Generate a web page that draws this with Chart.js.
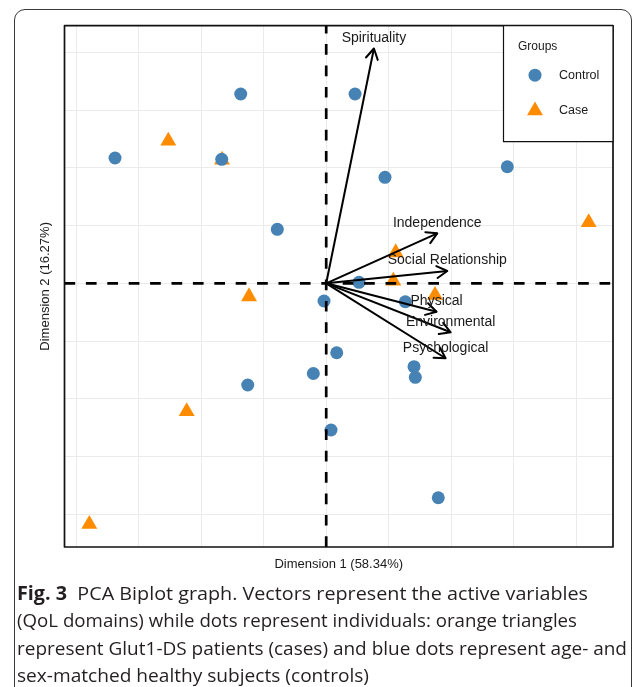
<!DOCTYPE html>
<html>
<head>
<meta charset="utf-8">
<script src="https://cdn.jsdelivr.net/npm/chart.js@4.4.1/dist/chart.umd.min.js"></script>
<style>
  html, body { margin: 0; padding: 0; background: #fff; overflow: hidden; }
  #wrap { position: relative; width: 637px; height: 687px; overflow: hidden; }
  #biplot { position: absolute; left: 0; top: 0; }
  #frame {
    position: absolute; left: 14px; top: 9px; width: 616px; height: 720px;
    border: 1.4px solid #3a3a3a; border-radius: 11px; pointer-events: none;
  }
  #caption {
    position: absolute; left: 17px; top: 580px;
    font-family: "Open Sans", "Noto Sans", sans-serif; font-size: 19px;
    line-height: 27.3px; color: #231f20;
  }
  #caption .line { display: block; white-space: nowrap; transform-origin: 0 0; width: max-content; }
  #caption b { font-weight: 700; }
</style>
</head>
<body>
<div id="wrap">
  <canvas id="biplot" width="637" height="687"></canvas>
  <div id="frame"></div>
  <div id="caption">
    <span class="line" data-w="571"><b>Fig. 3</b>&nbsp;&nbsp;PCA Biplot graph. Vectors represent the active variables</span>
    <span class="line" data-w="560">(QoL domains) while dots represent individuals: orange triangles</span>
    <span class="line" data-w="610">represent Glut1-DS patients (cases) and blue dots represent age- and</span>
    <span class="line" data-w="352">sex-matched healthy subjects (controls)</span>
  </div>
</div>
<script>
// individuals (PCA scores)
const controlX = [-3.377, -1.367, -1.671, -0.782, 0.461, 0.940, 2.896, 0.524, -0.035, 1.265, 0.168, 1.404, 1.425, -0.206, -1.255, 0.077, 1.792];
const controlY = [2.170, 3.278, 2.147, 0.935, 3.278, 1.835, 2.019, 0.017, -0.306, -0.319, -1.202, -1.444, -1.628, -1.562, -1.761, -2.540, -3.713];
const caseX = [-2.525, -1.666, 4.197, 1.111, 1.073, 1.740, -1.234, -2.231, -3.788];
const caseY = [2.466, 2.137, 1.053, 0.533, 0.042, -0.206, -0.229, -2.220, -4.171];

// active variables (QoL domains)
const variableNames = ['Spirituality', 'Independence', 'Social Relationship', 'Physical', 'Environmental', 'Psychological'];
const variableX = [0.763, 1.776, 1.936, 1.765, 1.990, 1.909];
const variableY = [4.066, 0.865, 0.213, -0.491, -0.848, -1.298];

const groupNames = ['Control', 'Case'];
const xTitle = 'Dimension 1 (58.34%)';
const yTitle = 'Dimension 2 (16.27%)';
const gridTicks = [-4, -3, -2, -1, 0, 1, 2, 3, 4];
const xMin = -4.185, xMax = 4.586;
const yMin = -4.566, yMax = 4.461;

const blue = '#4682B4';
const orange = '#FF8C00';
const font = '"Liberation Sans", Arial, Helvetica, sans-serif';

const arrowSets = variableNames.map((name, i) => ({
    type: 'line',
    label: name,
    data: [{ x: 0, y: 0 }, { x: variableX[i], y: variableY[i] }],
    borderColor: '#000',
    borderWidth: 2,
    pointRadius: 0,
    fill: false,
    tension: 0,
    order: 0
}));

const datasets = arrowSets.concat([
    {
        type: 'line',
        label: 'h0',
        data: [{ x: xMin, y: 0 }, { x: xMax, y: 0 }],
        borderColor: '#000',
        borderWidth: 2.7,
        borderDash: [10.7, 10.7],
        pointRadius: 0,
        fill: false,
        order: 1
    },
    {
        type: 'line',
        label: 'v0',
        data: [{ x: 0, y: yMin }, { x: 0, y: yMax }],
        borderColor: '#000',
        borderWidth: 2.7,
        borderDash: [10.7, 10.7],
        pointRadius: 0,
        fill: false,
        order: 1
    },
    {
        label: groupNames[0],
        data: controlX.map((x, i) => ({ x: x, y: controlY[i] })),
        pointStyle: 'circle',
        pointRadius: 6.5,
        backgroundColor: blue,
        borderWidth: 0,
        order: 2
    },
    {
        label: groupNames[1],
        data: caseX.map((x, i) => ({ x: x, y: caseY[i] })),
        pointStyle: 'triangle',
        pointRadius: 9.2,
        backgroundColor: orange,
        borderWidth: 0,
        order: 3
    }
]);

const biplotDecor = {
    id: 'biplotDecor',
    afterDatasetsDraw(chart) {
        const c = chart.ctx;
        const xs = chart.scales.x, ys = chart.scales.y;
        const a = chart.chartArea;

        // arrow heads + variable labels
        c.save();
        c.strokeStyle = '#000';
        c.lineWidth = 2;
        c.lineCap = 'round';
        c.lineJoin = 'round';
        variableNames.forEach((name, i) => {
            const x0 = xs.getPixelForValue(0), y0 = ys.getPixelForValue(0);
            const x1 = xs.getPixelForValue(variableX[i]), y1 = ys.getPixelForValue(variableY[i]);
            const ang = Math.atan2(y1 - y0, x1 - x0);
            const len = 12, spread = Math.PI / 6;
            c.beginPath();
            c.moveTo(x1 - len * Math.cos(ang - spread), y1 - len * Math.sin(ang - spread));
            c.lineTo(x1, y1);
            c.lineTo(x1 - len * Math.cos(ang + spread), y1 - len * Math.sin(ang + spread));
            c.stroke();
        });
        c.fillStyle = '#1a1a1a';
        c.font = '14px ' + font;
        c.textAlign = 'center';
        c.textBaseline = 'middle';
        variableNames.forEach((name, i) => {
            c.fillText(name, xs.getPixelForValue(variableX[i]), ys.getPixelForValue(variableY[i]) - 10.5);
        });

        // panel border
        c.strokeStyle = '#111';
        c.lineWidth = 1.7;
        c.lineCap = 'butt';
        c.strokeRect(a.left, a.top, a.right - a.left, a.bottom - a.top);

        // legend box
        const lx = 503.5, ly = a.top, lw = a.right - lx, lh = 116;
        c.fillStyle = '#fff';
        c.fillRect(lx, ly, lw, lh);
        c.strokeStyle = '#111';
        c.lineWidth = 1.2;
        c.strokeRect(lx, ly, lw, lh);
        c.fillStyle = '#1a1a1a';
        c.font = '12px ' + font;
        c.textAlign = 'left';
        c.fillText('Groups', lx + 14.5, ly + 20.5);
        const mx = lx + 31.5;
        c.fillStyle = blue;
        c.beginPath();
        c.arc(mx, ly + 49.5, 6.5, 0, Math.PI * 2);
        c.fill();
        c.fillStyle = orange;
        const r = 9.2, ty = ly + 85;
        c.beginPath();
        for (let k = 0; k < 3; k++) {
            const t = k * 2 * Math.PI / 3;
            const px = mx + Math.sin(t) * r, py = ty - Math.cos(t) * r;
            if (k === 0) c.moveTo(px, py); else c.lineTo(px, py);
        }
        c.closePath();
        c.fill();
        c.fillStyle = '#1a1a1a';
        c.font = '12.5px ' + font;
        c.fillText(groupNames[0], lx + 55.5, ly + 49.5);
        c.fillText(groupNames[1], lx + 55.5, ly + 84.5);
        c.restore();
    }
};

const ctx = document.getElementById('biplot').getContext('2d');
new Chart(ctx, {
    type: 'scatter',
    data: { datasets: datasets },
    options: {
        responsive: false,
        animation: false,
        events: [],
        layout: { padding: { left: 33.2, right: 24, top: 25.7, bottom: 114.4 }, autoPadding: false },
        plugins: { legend: { display: false }, tooltip: { enabled: false } },
        scales: {
            x: {
                type: 'linear',
                min: xMin,
                max: xMax,
                afterBuildTicks: s => { s.ticks = gridTicks.map(v => ({ value: v })); },
                ticks: { display: false },
                grid: { color: '#ebebeb', lineWidth: 1, drawTicks: false },
                border: { display: false },
                title: { display: true, text: xTitle, color: '#1a1a1a', font: { family: font, size: 13 }, padding: { top: 10, bottom: 0 } }
            },
            y: {
                type: 'linear',
                min: yMin,
                max: yMax,
                afterBuildTicks: s => { s.ticks = gridTicks.map(v => ({ value: v })); },
                ticks: { display: false },
                grid: { color: '#ebebeb', lineWidth: 1, drawTicks: false },
                border: { display: false },
                title: { display: true, text: yTitle, color: '#1a1a1a', font: { family: font, size: 13 }, padding: { top: 4, bottom: 11.7 } }
            }
        }
    },
    plugins: [biplotDecor]
});

// fit each caption line to the width it has in the figure
document.querySelectorAll('#caption .line').forEach(el => {
    const w = el.getBoundingClientRect().width;
    const target = parseFloat(el.dataset.w);
    el.style.transform = 'scaleX(' + (target / w).toFixed(4) + ')';
});
</script>
</body>
</html>
